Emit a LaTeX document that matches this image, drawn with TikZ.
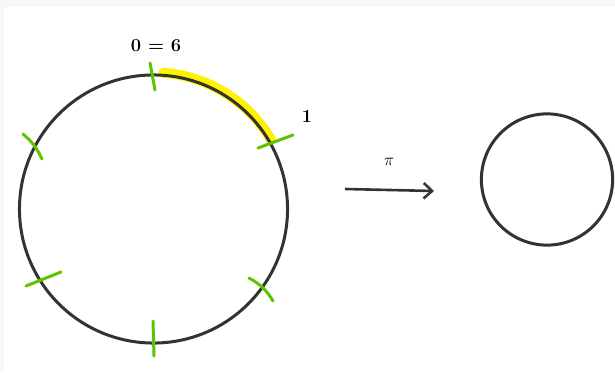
\documentclass[tikz,border=0pt]{standalone}
\usepackage{xcolor}
\usetikzlibrary{arrows.meta,positioning}
\definecolor{ink}{HTML}{333333}
\definecolor{tickgreen}{HTML}{5CC400}
\definecolor{marker}{HTML}{FFF200}

\begin{document}
\begin{tikzpicture}[
  x=0.025cm, y=0.025cm,
  ring/.style={draw=ink, circle, line width=0.075cm, inner sep=0pt},
  notch/.style={draw=tickgreen, line width=0.075cm, line cap=round},
  num/.style={font=\bfseries\fontsize{13}{15}\selectfont, inner sep=0pt},
  arrow/.style={-{Straight Barb[length=6pt,width=11pt]}, draw=ink, line width=0.065cm}
]
\fill[black!3] (0,0) rectangle (615,-373);
\fill[white] (4,-7) rectangle (615,-373);
\useasboundingbox (0,0) rectangle (615,-373);

% highlighted arc between 0 and 1
\draw[marker, line width=0.25cm, line cap=round] (153.5,-209) ++(86:136.5) arc[start angle=86, end angle=31, radius=136.5];

\node[ring, minimum size=6.7cm] (big) at (153.5,-209) {};
\node[ring, minimum size=3.28cm] (small) at (547,-179.5) {};

% six marks on the big circle
\foreach \p/\q in {{(150,-63)}/{(155,-90)}, {(258,-148)}/{(293,-135)},
                   {(26,-286)}/{(61,-272)}, {(153,-321)}/{(154,-356)}}
  \draw[notch] \p -- \q;
\draw[notch] (23,-134) to[bend left=12] (42,-159);
\draw[notch] (249,-278) to[bend left=15] (273,-301);

\node[num] (zero) at (156,-46) {0 = 6};
\node[num] (one) at (307,-117) {1};

\coordinate (from) at (345,-189);
\coordinate (to) at (434,-191);
\draw[arrow] (from) -- (to);
\node[font=\fontsize{12}{14}\selectfont, inner sep=0pt] (map) at (389,-162) {$\pi$};
\end{tikzpicture}
\end{document}
